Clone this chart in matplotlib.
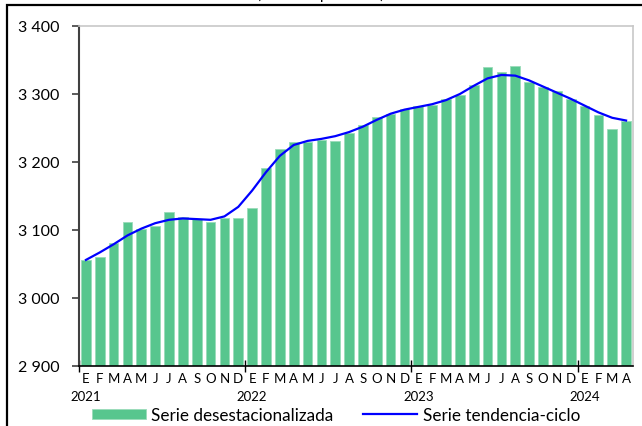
import numpy as np
import matplotlib.pyplot as plt
import matplotlib.transforms as mtransforms
from matplotlib.patches import Rectangle

plt.rcParams['font.family'] = ['Lato', 'DejaVu Sans']

# Data (miles de personas), enero 2021 - abril 2024
months = ['E', 'F', 'M', 'A', 'M', 'J', 'J', 'A', 'S', 'O', 'N', 'D'] * 3 + ['E', 'F', 'M', 'A']
years = ['2021', '2022', '2023', '2024']
desestacionalizada = [3056, 3061, 3081, 3112, 3101, 3106, 3127, 3119, 3116, 3112, 3117, 3117,
                      3132, 3191, 3219, 3229, 3230, 3232, 3231, 3242, 3254, 3266, 3271, 3278,
                      3282, 3284, 3292, 3298, 3313, 3340, 3333, 3341, 3318, 3310, 3305, 3292,
                      3283, 3269, 3249, 3260]
tendencia = [3056, 3067, 3079, 3092, 3102, 3110, 3115, 3117, 3116, 3115, 3120, 3134,
             3158, 3185, 3209, 3225, 3231, 3234, 3238, 3244, 3252, 3262, 3271, 3277,
             3281, 3285, 3291, 3300, 3312, 3323, 3328, 3327, 3320, 3311, 3302, 3293,
             3283, 3273, 3265, 3261]

x = np.arange(len(months))

fig = plt.figure(figsize=(6.42, 4.27), dpi=100)
ax = fig.add_axes([79/642, 1-367/427, (633-79)/642, (367-27)/427])

bars = ax.bar(x, desestacionalizada, width=0.7, color='#57C68E', edgecolor='#9ADBB9',
              linewidth=0.6, label='Serie desestacionalizada', zorder=2)
line, = ax.plot(x, tendencia, color='#0000FF', lw=1.6, label='Serie tendencia-ciclo', zorder=3)

ax.set_xlim(-0.5, len(months) - 0.5)
ax.set_ylim(2900, 3400)
ax.set_yticks(np.arange(2900, 3401, 100))
ax.set_yticklabels([f'{v:,}'.replace(',', ' ') for v in range(2900, 3401, 100)], fontsize=11.5)
ax.tick_params(axis='y', length=5, width=1.2, color='#404040', pad=9)

# year boundaries as major ticks, month letters as minor tick labels
ax.set_xticks([-0.5, 11.5, 23.5, 35.5])
ax.set_xticklabels([])
ax.tick_params(axis='x', which='major', direction='inout', length=8, width=1.0, color='black')
ax.set_xticks(x, minor=True)
ax.set_xticklabels(months, minor=True, fontsize=9.5)
ax.tick_params(axis='x', which='minor', length=0, pad=4)

trans = mtransforms.blended_transform_factory(ax.transData, ax.transAxes)
for i, yr in enumerate(years):
    ax.text(i * 12, -0.088, yr, transform=trans, ha='center', va='center', fontsize=9.5)

ax.spines['left'].set_color('#404040')
ax.spines['left'].set_linewidth(1.5)
ax.spines['bottom'].set_color('black')
ax.spines['bottom'].set_linewidth(1.2)
ax.spines['top'].set_color('#C8C8C8')
ax.spines['right'].set_color('#C8C8C8')
ax.spines['top'].set_linewidth(1.2)
ax.spines['right'].set_linewidth(1.2)

fig.legend([bars, line], ['Serie desestacionalizada', 'Serie tendencia-ciclo'],
           loc='center', bbox_to_anchor=(0.523, 1-416/427), ncol=2, frameon=False,
           fontsize=12.3, handlelength=3.2, handleheight=0.6, columnspacing=1.7,
           handletextpad=0.3)

# outer frame and cut-off title
fig.patches.append(Rectangle((7/642, -0.1), 1.2, 1.1 - 6/427, transform=fig.transFigure,
                             fill=False, edgecolor='black', linewidth=1.6, zorder=0))
fig.text(0.5, 1 + 1/427, '(miles de personas)', ha='center', va='baseline', fontsize=11)

fig.savefig('out.png', dpi=100)
